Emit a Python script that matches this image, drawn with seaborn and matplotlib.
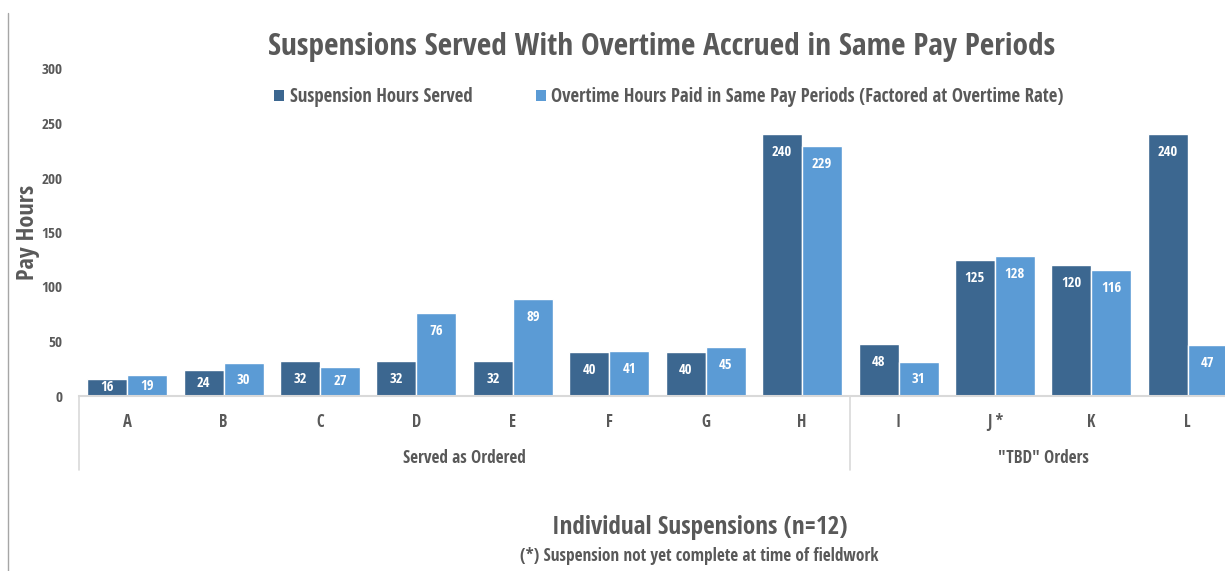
import matplotlib
matplotlib.use("Agg")
import matplotlib.pyplot as plt
import seaborn as sns
import pandas as pd
from matplotlib.patches import Patch
from matplotlib.lines import Line2D
from matplotlib import transforms

categories = ["A", "B", "C", "D", "E", "F", "G", "H", "I", "J *", "K", "L"]
suspension_hours = [16, 24, 32, 32, 32, 40, 40, 240, 48, 125, 120, 240]
overtime_hours = [19, 30, 27, 76, 89, 41, 45, 229, 31, 128, 116, 47]
series_names = ["Suspension Hours Served",
                "Overtime Hours Paid in Same Pay Periods (Factored at Overtime Rate)"]
groups = ["Served as Ordered", "\"TBD\" Orders"]
group_sizes = [8, 4]
y_ticks = [0, 50, 100, 150, 200, 250, 300]

DARK = "#3C6790"
LIGHT = "#5B9BD5"
TXT = "#595959"
GRID = "#D9D9D9"

sns.set_theme(style="white")
plt.rcParams["font.family"] = ["Open Sans Condensed", "DejaVu Sans"]
plt.rcParams["font.weight"] = "bold"

df = pd.DataFrame({
    "cat": categories * 2,
    "hours": suspension_hours + overtime_hours,
    "series": [series_names[0]] * len(categories) + [series_names[1]] * len(categories),
})

fig = plt.figure(figsize=(12.25, 5.71), dpi=100)
W, H = 1225, 571
ax = fig.add_axes([79 / W, 175 / H, (1236 - 79) / W, (502 - 175) / H])

sns.barplot(data=df, x="cat", y="hours", hue="series", order=categories,
            hue_order=series_names, palette=[DARK, LIGHT], width=0.83, gap=0,
            saturation=1, edgecolor="white", linewidth=1, ax=ax, legend=False)

ax.set_ylim(0, 300)
ax.set_xlim(-0.5, len(categories) - 0.5)
ax.set_yticks(y_ticks)
ax.set_yticklabels([str(t) for t in y_ticks])
ax.tick_params(axis="y", length=0, pad=12, labelsize=11, labelcolor=TXT)
ax.tick_params(axis="x", length=0, pad=12, labelsize=12, labelcolor=TXT)
for lbl in ax.get_xticklabels() + ax.get_yticklabels():
    lbl.set_fontweight("bold")
for s in ["left", "right", "top"]:
    ax.spines[s].set_visible(False)
ax.spines["bottom"].set_color(GRID)
ax.spines["bottom"].set_linewidth(1.5)
ax.set_xlabel("")
ax.set_ylabel("Pay Hours", fontsize=17.5, fontweight="bold", color=TXT)
ax.yaxis.set_label_coords((40 - 79) / 1157, (396 - 232) / 327)

# bar value labels
for cont in ax.containers:
    for rect in cont:
        v = rect.get_height()
        x = rect.get_x() + rect.get_width() / 2
        y = max(v - 16.5, v / 2)
        ax.text(x, y, f"{v:.0f}", ha="center", va="center", color="white",
                fontsize=10.5, fontweight="bold")

# group separators and labels
trans = transforms.blended_transform_factory(ax.transData, ax.transAxes)
edges = [-0.5]
for n in group_sizes:
    edges.append(edges[-1] + n)
for e in edges[:-1]:
    ax.add_line(Line2D([e, e], [0, -0.226], transform=trans, color=GRID,
                       linewidth=1.2, clip_on=False))
for g, a, b in zip(groups, edges[:-1], edges[1:]):
    ax.text((a + b) / 2, -0.19, g, transform=trans, ha="center", va="center",
            fontsize=12.3, fontweight="bold", color=TXT)

# title
fig.text(662 / W, 1 - 47 / H, "Suspensions Served With Overtime Accrued in Same Pay Periods",
         ha="center", va="center", fontsize=22.6, fontweight="bold", color=TXT)

# legend
handles = [Patch(facecolor=DARK, edgecolor="none"), Patch(facecolor=LIGHT, edgecolor="none")]
fig.legend(handles, series_names, loc="center", bbox_to_anchor=(669 / W, 1 - 97 / H),
           ncol=2, frameon=False, handlelength=0.55, handleheight=0.55, handletextpad=0.3,
           columnspacing=3.35, prop={"size": 13.5, "weight": "bold"}, labelcolor=TXT)

# axis title and note
fig.text(700 / W, 1 - 527 / H, "Individual Suspensions (n=12)", ha="center", va="center",
         fontsize=18.2, fontweight="bold", color=TXT)
fig.text(699 / W, 1 - 556 / H, "(*) Suspension not yet complete at time of fieldwork",
         ha="center", va="center", fontsize=12.4, fontweight="bold", color=TXT)

# left border line
fig.add_artist(Line2D([8 / W, 8 / W], [0, 1 - 13 / H], transform=fig.transFigure,
                      color="#A6A6A6", linewidth=1))

fig.savefig("out.png", dpi=100)
